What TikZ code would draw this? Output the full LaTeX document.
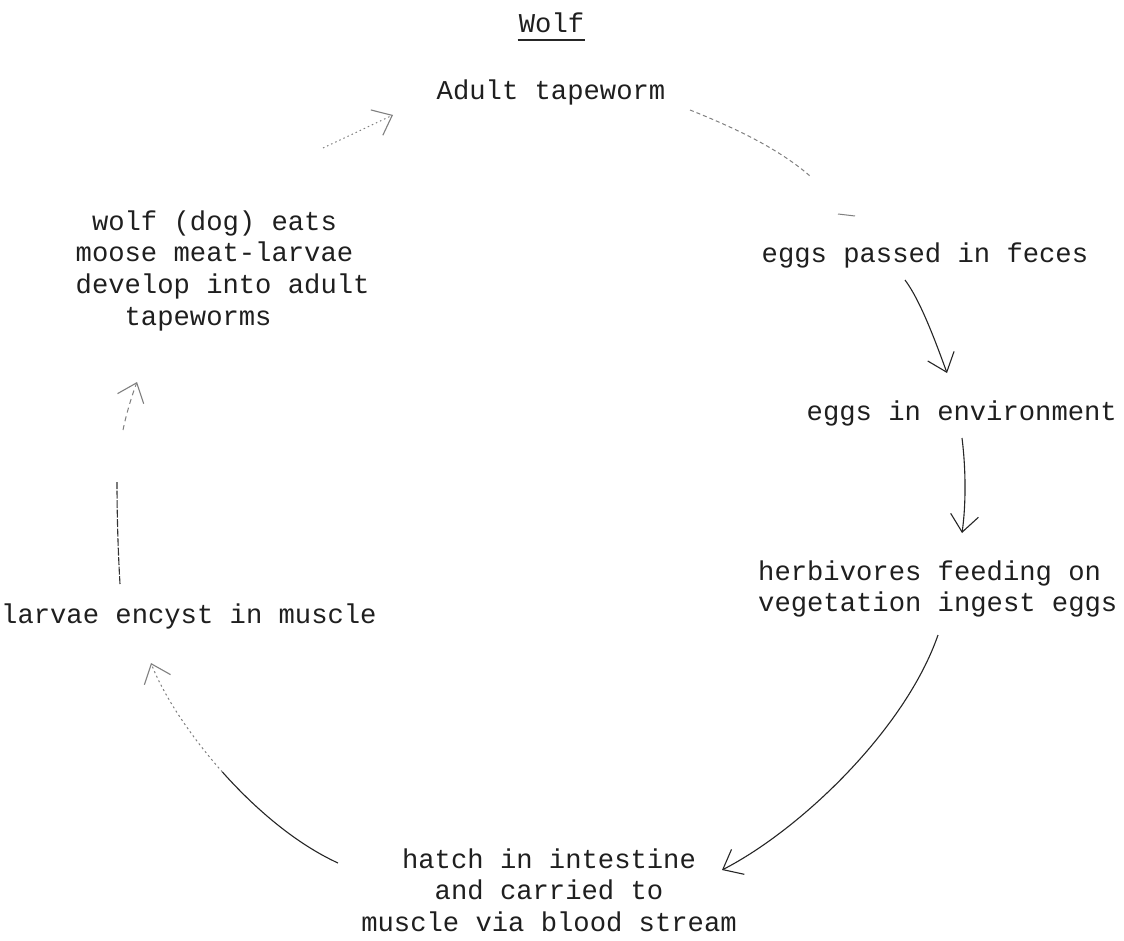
\documentclass[tikz,border=0pt]{standalone}
\usepackage{fontspec}
\newfontfamily\typewriter{Liberation Mono}
\usetikzlibrary{arrows.meta,calc}
% strut that fixes the height of the first line of a block
\newcommand\firstline{\rule{0pt}{24pt}}
\begin{document}
\begin{tikzpicture}[x=1pt,y=-1pt,
  txt/.style={font=\typewriter\fontsize{27.2}{31.7}\selectfont, inner sep=0pt, text=black!88},
  head/.style={-{Straight Barb[length=17pt,width=28pt,line width=1.1pt]}},
  link/.style={draw=black!85, line width=1.1pt, head},
  faint/.style={draw=black!50, line width=1pt},
]
\useasboundingbox (0,0) rectangle (1124,941);
\fill[white] (0,0) rectangle (1124,941);

% title
\node[txt, anchor=base] (wolf) at (551.5,33) {Wolf};
\draw[black!85, line width=1.4pt] ($(wolf.base west)+(-1,7)$) -- ($(wolf.base east)+(1,7)$);

% stages of the cycle
\node[txt, anchor=base] (adult) at (551,100) {Adult tapeworm};
\node[txt, anchor=base west] (feces) at (761.5,262) {eggs passed in feces};
\node[txt, anchor=base west] (env) at (806.5,420) {eggs in environment};
\node[txt, anchor=north west, align=left] (herb) at (758,556)
  {\firstline herbivores feeding on\\vegetation ingest eggs};
\node[txt, anchor=north, align=center] (hatch) at (549,844)
  {\firstline hatch in intestine\\and carried to\\muscle via blood stream};
\node[txt, anchor=base west] (larvae) at (1,623) {larvae encyst in muscle};
\node[txt, anchor=north west, align=left] (eats) at (75.5,206)
  {\firstline\phantom{x}wolf (dog) eats\\moose meat-larvae\\develop into adult\\\phantom{xxx}tapeworms};

% end points of the connectors
\coordinate (a1s) at (323,148);  \coordinate (a1e) at (393,115);
\coordinate (a2s) at (690,110);  \coordinate (a2e) at (810,176);
\coordinate (a2t) at (838,214);  \coordinate (a2u) at (855,216);
\coordinate (a3s) at (905,280);  \coordinate (a3e) at (947,373);
\coordinate (a4s) at (962,438);  \coordinate (a4e) at (962,533);
\coordinate (a5s) at (938,635);  \coordinate (a5e) at (722,870);
\coordinate (a6s) at (338,863);  \coordinate (a6m) at (222.4,772); \coordinate (a6e) at (151,663);
\coordinate (a7s) at (120,584);  \coordinate (a7m) at (117,482);
\coordinate (a7n) at (123,430);  \coordinate (a7e) at (137,382);

% eats -> adult (faded)
\draw[faint, head, dash pattern=on 1.5pt off 3pt] (a1s) -- (a1e);
% adult -> feces (faded)
\draw[faint, dash pattern=on 4pt off 3pt] (a2s) .. controls (740,130) and (780,150) .. (a2e);
\draw[faint] (a2t) -- (a2u);
% feces -> environment
\draw[link] (a3s) .. controls (920,300) and (935,340) .. (a3e);
% environment -> herbivores
\draw[link] (a4s) .. controls (966,470) and (966,505) .. (a4e);
% herbivores -> hatch
\draw[link] (a5s) .. controls (905,730) and (800,830) .. (a5e);
% hatch -> larvae
\draw[black!85, line width=1.1pt] (a6s) .. controls (296.5,844) and (255.75,809.5) .. (a6m);
\draw[faint, head, dash pattern=on 2pt off 3pt] (a6m) .. controls (189,734.5) and (163,694) .. (a6e);
% larvae -> eats
\draw[black!80, line width=1.1pt, dash pattern=on 8pt off 1.5pt] (a7s) .. controls (118,550) and (117,515) .. (a7m);
\draw[faint, head, dash pattern=on 5pt off 4pt] (a7n) .. controls (126,415) and (132,395) .. (a7e);
\end{tikzpicture}
\end{document}
